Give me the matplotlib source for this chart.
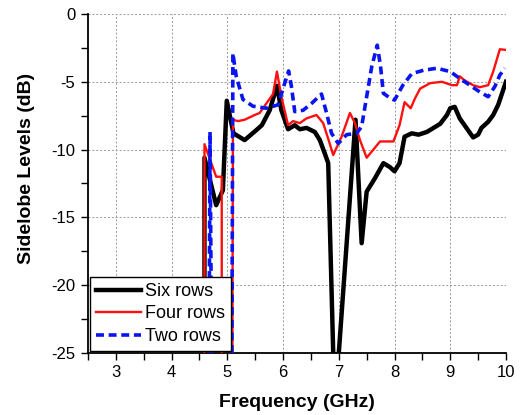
import numpy as np
import matplotlib
matplotlib.use("Agg")
import matplotlib.pyplot as plt
from matplotlib.ticker import MultipleLocator

plt.rcParams['font.family'] = ['Liberation Sans', 'DejaVu Sans']
plt.rcParams['axes.unicode_minus'] = False

# Six rows
f_six = [4.59, 4.59, 4.80, 4.92, 4.99, 5.11, 5.31, 5.51, 5.62, 5.76, 5.89, 5.97, 6.09, 6.21, 6.30,
         6.42, 6.57, 6.66, 6.75, 6.81, 6.90, 6.95, 7.00, 7.30, 7.41, 7.50, 7.65, 7.80, 7.92, 8.00,
         8.09, 8.18, 8.31, 8.43, 8.58, 8.70, 8.82, 8.94, 9.00, 9.08, 9.17, 9.29, 9.41, 9.50, 9.56,
         9.68, 9.77, 9.86, 9.95, 10.0]
sl_six = [-27, -10.6, -14.1, -13.0, -6.4, -8.8, -9.3, -8.6, -8.2, -7.1, -5.3, -7.1, -8.5, -8.2, -8.5,
          -8.4, -8.7, -9.3, -10.3, -11.0, -25.0, -27, -25.0, -7.8, -16.9, -13.1, -12.1, -11.0, -11.3, -11.6,
          -11.0, -9.05, -8.8, -8.9, -8.7, -8.4, -8.1, -7.45, -6.95, -6.85, -7.7, -8.4, -9.1, -8.9, -8.4,
          -7.95, -7.45, -6.7, -5.6, -5.0]

# Four rows
f_four = [4.59, 4.59, 4.80, 4.90, 4.90, 5.09, 5.10, 5.19, 5.31, 5.49, 5.58, 5.70, 5.82, 5.89, 5.97,
          6.09, 6.18, 6.30, 6.42, 6.60, 6.72, 6.81, 6.90, 7.05, 7.20, 7.29, 7.38, 7.50, 7.62, 7.74,
          7.86, 7.98, 8.09, 8.18, 8.29, 8.37, 8.46, 8.64, 8.85, 9.03, 9.12, 9.17, 9.26, 9.41, 9.53,
          9.68, 9.77, 9.89, 10.0]
sl_four = [-27, -9.6, -12.0, -12.0, -27, -27, -7.8, -7.9, -7.8, -7.45, -7.3, -6.6, -5.9, -4.25, -6.1,
           -8.2, -7.9, -8.05, -7.7, -7.45, -8.05, -9.2, -10.4, -9.05, -7.3, -8.05, -9.3, -10.6, -10.0, -9.4,
           -9.4, -9.4, -8.2, -6.5, -6.95, -6.2, -5.5, -5.1, -5.0, -5.25, -5.25, -4.6, -4.9, -5.25, -5.4,
           -5.25, -4.25, -2.6, -2.65]

# Two rows
f_two = [4.67, 4.69, 4.72, 5.08, 5.10, 5.16, 5.28, 5.46, 5.70, 5.91, 6.03, 6.10, 6.15, 6.21, 6.36,
         6.51, 6.69, 6.78, 6.87, 6.99, 7.14, 7.32, 7.41, 7.50, 7.59, 7.69, 7.75, 7.80, 7.92, 8.00,
         8.15, 8.31, 8.52, 8.76, 9.00, 9.17, 9.35, 9.53, 9.68, 9.80, 9.89, 9.98]
sl_two = [-27, -8.7, -27, -27, -2.9, -4.6, -6.3, -6.8, -6.95, -6.7, -5.1, -4.2, -5.35, -7.2, -7.1,
          -6.6, -5.9, -7.3, -8.8, -9.55, -8.9, -8.8, -8.3, -6.1, -3.9, -2.3, -3.9, -5.85, -6.2, -6.35,
          -5.25, -4.4, -4.15, -4.0, -4.25, -4.75, -5.25, -5.75, -6.1, -5.35, -4.5, -4.0]

fig = plt.figure(figsize=(5.25, 4.15), dpi=100)
ax = fig.add_axes([0.1676, 0.1494, 0.7962, 0.8169])

ax.plot(f_six, sl_six, color='black', lw=3.2, label='Six rows', zorder=3)
ax.plot(f_four, sl_four, color='#ff1010', lw=1.7, label='Four rows', zorder=4)
ax.plot(f_two, sl_two, color='#0a14f0', lw=2.6, ls=(0, (2.2, 1.3)), label='Two rows', zorder=5)

ax.set_xlim(2.5, 10)
ax.set_ylim(-25, 0)
ax.xaxis.set_major_locator(MultipleLocator(1))
ax.xaxis.set_minor_locator(MultipleLocator(0.5))
ax.yaxis.set_major_locator(MultipleLocator(5))
ax.yaxis.set_minor_locator(MultipleLocator(2.5))
ax.tick_params(which='both', direction='out', labelsize=12, width=1)
ax.tick_params(which='major', length=5, pad=4)
ax.tick_params(which='minor', length=5)
ax.spines['top'].set_visible(False)
ax.spines['right'].set_visible(False)
ax.spines['left'].set_linewidth(1.3)
ax.spines['bottom'].set_linewidth(1.3)
ax.grid(True, which='major', ls=(0, (2, 2)), color='#999999', lw=0.7)
ax.set_axisbelow(True)

ax.set_xlabel('Frequency (GHz)', fontsize=14, fontweight='bold', va='center')
ax.set_ylabel('Sidelobe Levels (dB)', fontsize=14, fontweight='bold', va='center')
ax.xaxis.set_label_coords(0.5, -0.147)
ax.yaxis.set_label_coords(-0.148, 0.543)

leg = ax.legend(loc='lower left', fontsize=13, frameon=True, fancybox=False, handlelength=2.5,
                borderaxespad=0.1, labelspacing=0.3, handletextpad=0.2, borderpad=0.35)
leg.get_frame().set_edgecolor('black')
leg.get_frame().set_linewidth(1)
leg.get_frame().set_alpha(1)

fig.savefig('out.png', dpi=100)
